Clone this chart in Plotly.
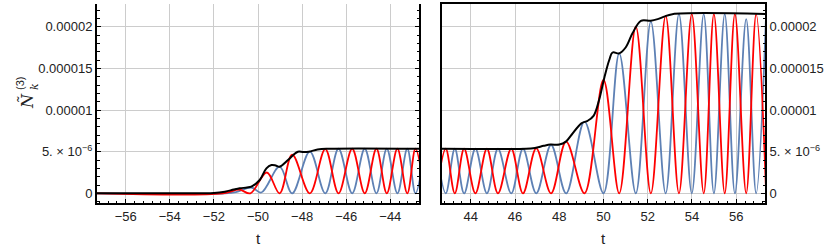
import plotly.graph_objects as go

# ---------------- data (values in units of 1e-6) ----------------
# Left panel (t < 0)
blue_t_L = [-57.3, -51.5, -51.0, -50.3, -49.85, -49.02, -48.45, -47.65, -46.95, -46.35,
            -45.73, -45.16, -44.63, -44.16, -43.68, -43.23, -42.86, -42.45]
blue_y_L = [0, 0, 0.15, 0.7, 0.1, 3.2, 0, 5.0, 0, 5.35,
            0, 5.35, 0, 5.35, 0, 5.35, 0, 5.35]

red_t_L = [-57.3, -51.6, -50.85, -50.35, -49.6, -49.02, -48.45, -47.65, -46.95, -46.35,
           -45.73, -45.16, -44.63, -44.16, -43.68, -43.23, -42.86, -42.45]
red_y_L = [0, 0, 0.45, 0, 2.5, 0, 4.65, 0, 5.3, 0,
           5.35, 0, 5.35, 0, 5.35, 0, 5.35, 0]

black_t_L = [-57.3, -52.6, -52.0, -51.5, -51.1, -50.83, -50.5, -50.3, -49.92, -49.62,
             -49.39, -49.2, -49.02, -48.64, -48.4, -48.19, -47.95, -47.7, -47.3, -46.9, -42.45]
black_y_L = [0, 0, 0.03, 0.2, 0.45, 0.6, 0.7, 0.8, 1.6, 3.0,
             3.4, 3.35, 3.2, 4.0, 4.6, 5.0, 4.97, 5.0, 5.25, 5.35, 5.35]

# Right panel (t > 0)
blue_t_R = [42.45, 42.87, 43.28, 43.70, 44.21, 44.73, 45.23, 45.83, 46.36, 46.96,
            47.63, 48.31, 49.14, 50.00, 50.71, 51.46, 52.14, 52.81, 53.41, 53.99,
            54.53, 54.99, 55.48, 55.94, 56.45, 56.90, 57.35]
blue_y_R = [5.35, 0, 5.35, 0, 5.35, 0, 5.35, 0, 5.35, 0,
            5.8, 0, 8.6, 0, 16.8, 0, 20.6, 0, 21.5, 0,
            21.5, 0, 21.5, 0, 20.9, 0, 21.5]

red_t_R = [42.45, 42.87, 43.28, 43.70, 44.21, 44.73, 45.23, 45.83, 46.36, 46.96,
           47.63, 48.31, 49.14, 50.00, 50.71, 51.46, 52.14, 52.81, 53.41, 53.99,
           54.53, 54.99, 55.48, 55.94, 56.45, 56.90, 57.35]
red_y_R = [0, 5.35, 0, 5.35, 0, 5.35, 0, 5.35, 0, 5.4,
           0, 6.2, 0, 13.6, 0, 20.0, 0, 21.3, 0, 21.5,
           0, 21.5, 0, 21.5, 0, 21.5, 0]

black_t_R = [42.45, 46.5, 46.9, 47.3, 47.6, 48.0, 48.3, 48.55, 49.0, 49.28,
             49.55, 49.8, 50.04, 50.26, 50.41, 50.71, 51.0, 51.31, 51.69, 52.14,
             52.45, 52.74, 53.11, 57.6]
black_y_R = [5.35, 5.35, 5.45, 5.7, 5.85, 5.85, 6.2, 7.0, 8.4, 8.7,
             9.3, 11.2, 13.9, 16.0, 16.9, 16.8, 17.5, 19.2, 20.7, 20.7,
             20.9, 21.2, 21.5, 21.5]

x_ticks_L = [-56, -54, -52, -50, -48, -46, -44]
x_ticks_R = [44, 46, 48, 50, 52, 54, 56]
y_ticks = [0, 5, 10, 15, 20]
y_ticktext = ["0", "5. × 10<sup>−6</sup>", "0.00001", "0.000015", "0.00002"]

# ---------------- figure ----------------
BLUE = "#5E81B5"
RED = "#FF0000"
W, H = 830, 246

fig = go.Figure()


def add(t, y, color, xa, ya, width=1.8):
    fig.add_trace(go.Scatter(x=t, y=y, mode="lines", xaxis=xa, yaxis=ya,
                             line=dict(color=color, width=width, shape="spline", smoothing=1.0),
                             showlegend=False, hoverinfo="skip"))


add(blue_t_L, blue_y_L, BLUE, "x", "y")
add(red_t_L, red_y_L, RED, "x", "y")
add(black_t_L, black_y_L, "black", "x", "y", 2.0)
add(blue_t_R, blue_y_R, BLUE, "x2", "y2")
add(red_t_R, red_y_R, RED, "x2", "y2")
add(black_t_R, black_y_R, "black", "x2", "y2", 2.0)

tickfont = dict(family="Liberation Sans, Arial, sans-serif", size=13, color="#222")
grid = "#cccccc"
y_range = [-1.16, 22.72]

common_x = dict(showgrid=True, gridcolor=grid, gridwidth=1, zeroline=False,
                ticks="inside", ticklen=4, tickwidth=1.2, tickcolor="black",
                showline=True, linewidth=2, linecolor="black", tickfont=tickfont,
                tickmode="array",
                minor=dict(ticks="inside", ticklen=2.5, tickwidth=1, tickcolor="black",
                           tickmode="linear", tick0=0, dtick=0.4, showgrid=False))
common_y = dict(showgrid=True, gridcolor=grid, gridwidth=1, zeroline=False,
                ticks="inside", ticklen=4, tickwidth=1.2, tickcolor="black",
                showline=True, linewidth=2, linecolor="black", tickfont=tickfont,
                tickmode="array", tickvals=y_ticks, ticktext=y_ticktext, range=y_range,
                minor=dict(ticks="inside", ticklen=2.5, tickwidth=1, tickcolor="black",
                           tickmode="linear", tick0=0, dtick=1, showgrid=False))

fig.update_layout(
    width=W, height=H, margin=dict(l=0, r=0, t=0, b=0),
    paper_bgcolor="white", plot_bgcolor="white",
    xaxis=dict(common_x, domain=[97 / W, 419 / W], range=[-57.3, -42.7],
               tickvals=x_ticks_L, ticktext=["−%d" % (-v) for v in x_ticks_L],
               anchor="y", mirror=False),
    yaxis=dict(common_y, domain=[1 - 203 / H, 1 - 4 / H], anchor="x", side="left",
               mirror="allticks"),
    xaxis2=dict(common_x, domain=[442 / W, 765 / W], range=[42.7, 57.3],
                tickvals=x_ticks_R, ticktext=[str(v) for v in x_ticks_R],
                anchor="y2", mirror=True),
    yaxis2=dict(common_y, domain=[1 - 203 / H, 1 - 4 / H], anchor="x2", side="right",
                mirror=True),
)

ann_font = dict(family="Liberation Sans, Arial, sans-serif", size=15, color="#222")
fig.add_annotation(text="t", x=258 / W, y=1 - 238 / H, xref="paper", yref="paper",
                   showarrow=False, font=ann_font, xanchor="center", yanchor="middle")
fig.add_annotation(text="t", x=603 / W, y=1 - 238 / H, xref="paper", yref="paper",
                   showarrow=False, font=ann_font, xanchor="center", yanchor="middle")

lab_font = dict(family="DejaVu Serif, serif", size=16, color="#222")
fig.add_annotation(text="<i>Ñ</i>", x=27 / W, y=1 - 101 / H, xref="paper", yref="paper",
                   showarrow=False, font=lab_font, textangle=-90,
                   xanchor="center", yanchor="middle")
fig.add_annotation(text="(3)", x=20 / W, y=1 - 84 / H, xref="paper", yref="paper",
                   showarrow=False, font=dict(family="Liberation Sans, Arial, sans-serif", size=11, color="#222"),
                   textangle=-90, xanchor="center", yanchor="middle")
fig.add_annotation(text="<i>k</i>", x=34 / W, y=1 - 87 / H, xref="paper", yref="paper",
                   showarrow=False, font=dict(family="DejaVu Serif, serif", size=11, color="#222"),
                   textangle=-90, xanchor="center", yanchor="middle")

fig.write_html("out.html", config={"displayModeBar": False},
               post_script="document.body.style.margin='0';document.body.style.overflow='hidden';")
